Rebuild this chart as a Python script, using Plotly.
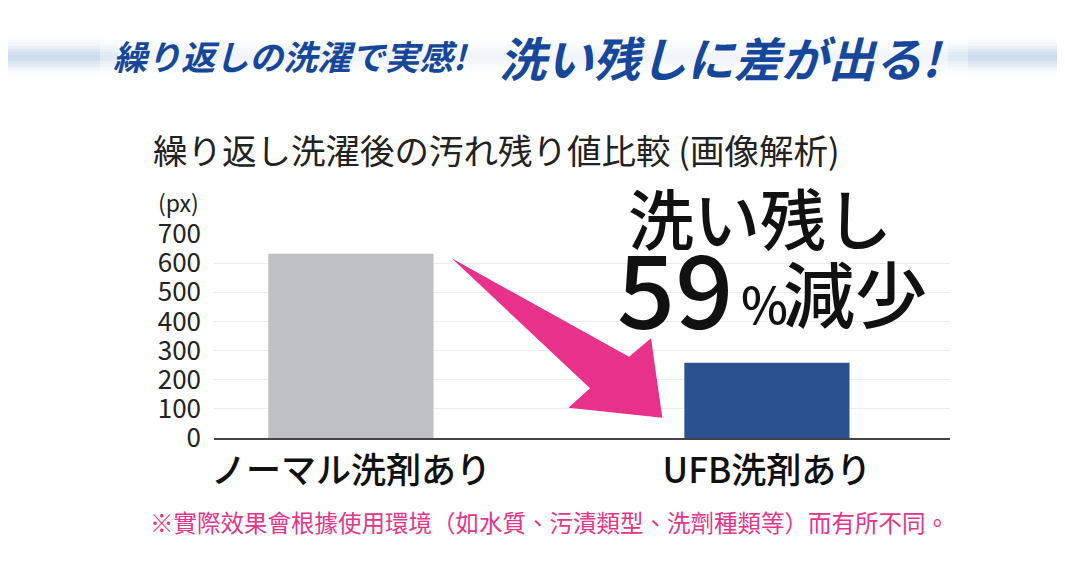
import plotly.graph_objects as go
import math

categories = ["ノーマル洗剤あり", "UFB洗剤あり"]
values = [632, 258]
bar_colors = ["#bfc0c2", "#2c518f"]
y_ticks = [0, 100, 200, 300, 400, 500, 600, 700]

OFF = 8  # page body margin
W, H = 1065 - OFF, 575 - OFF
L, R, T, B = 214 - OFF, 115, 234 - OFF, 137
PW, PH = W - L - R, H - T - B


def px(x, y):
    return (x - OFF - L) / PW, (H - B - (y - OFF)) / PH


JP = "Noto Sans CJK JP"
TC = "Noto Sans CJK TC"

fig = go.Figure()
fig.add_trace(go.Bar(
    x=categories, y=values, marker=dict(color=bar_colors, line=dict(width=0)),
    width=0.397, hoverinfo="skip"))

shapes = []
# title band (light blue gradient)
n = 14
y0b, y1b = 36, 80
for i in range(n):
    ya = y0b + (y1b - y0b) * i / n
    yb = y0b + (y1b - y0b) * (i + 1) / n
    t = (i + 0.5) / n - 0.47
    op = math.exp(-(t / 0.24) ** 2) * 0.9
    for (xa, xb, f) in [(0, 100, 1.0), (100, 118, 0.6), (118, 948, 0.3), (948, 968, 0.6), (968, 1065, 1.0)]:
        a0, b0 = px(xa, ya)
        a1, b1 = px(xb, yb)
        shapes.append(dict(type="rect", xref="paper", yref="paper", x0=a0, x1=a1, y0=b0, y1=b1,
                           fillcolor=f"rgba(198,216,235,{op * f:.3f})", line=dict(width=0), layer="below"))

# pink arrow
pts = [(451.7, 258.3), (629, 356.7), (651, 338.3), (662.3, 417.7), (568.3, 407.7), (590, 388.3)]
pp = [px(x, y) for x, y in pts]
path = "M " + " L ".join(f"{a:.4f},{b:.4f}" for a, b in pp) + " Z"
shapes.append(dict(type="path", xref="paper", yref="paper", path=path,
                   fillcolor="#e8318b", line=dict(width=0), layer="above"))

ann = []


def add_text(text, x, y, size, color="#1a1a1a", xanchor="center", family=JP, yanchor="middle", weight=None):
    a, b = px(x, y)
    f = dict(family=family, size=size, color=color)
    if weight:
        f["weight"] = weight
    ann.append(dict(text=text, x=a, y=b, xref="paper", yref="paper", xanchor=xanchor, yanchor=yanchor,
                    showarrow=False, font=f))


add_text("<b><i>繰り返しの洗濯で実感!</i></b>", 111, 55, 34, color="#17479b", xanchor="left")
add_text("<b><i>洗い残しに差が出る!</i></b>", 497, 56, 47, color="#17479b", xanchor="left")
add_text("繰り返し洗濯後の汚れ残り値比較 (画像解析)", 151, 149, 34.5, color="#222222", xanchor="left")
add_text("(px)", 201, 202, 23, color="#222222", xanchor="right")
add_text("洗い残し", 760, 216, 66, color="#111111", weight=500)
add_text("59", 615, 284, 102, color="#111111", xanchor="left", weight=500)
add_text("%", 739, 302, 50, color="#111111", xanchor="left", weight=500)
add_text("減少", 781, 290, 72, color="#111111", xanchor="left", weight=500)
add_text("※實際效果會根據使用環境（如水質、污漬類型、洗劑種類等）而有所不同。", 549, 522, 23.5,
         color="#e4358b", family=TC)

fig.update_layout(
    width=W, height=H, margin=dict(l=L, r=R, t=T, b=B),
    paper_bgcolor="white", plot_bgcolor="white", showlegend=False,
    shapes=shapes, annotations=ann,
    xaxis=dict(range=[-0.329, 1.44], showgrid=False, showline=True, linecolor="#444444", linewidth=1.5,
               ticks="", tickfont=dict(family=JP, size=35, color="#111111", weight=500), ticklabelstandoff=1,
               fixedrange=True),
    yaxis=dict(range=[0, 700], tickvals=y_ticks, showgrid=True, gridcolor="#ececec", gridwidth=1,
               zeroline=False, showline=False, ticks="", ticklabelstandoff=12,
               tickfont=dict(family=JP, size=26, color="#222222"), fixedrange=True),
)

fig.write_html("out.html")
